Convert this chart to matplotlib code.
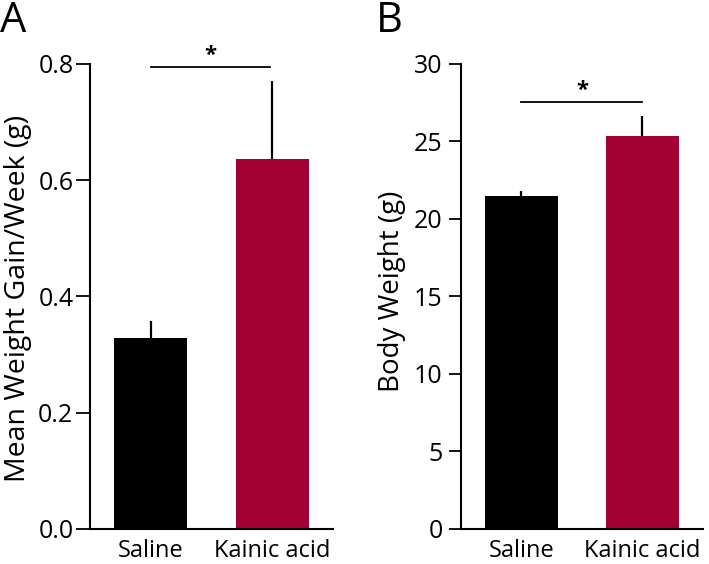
import numpy as np
import matplotlib
matplotlib.use('Agg')
import matplotlib.pyplot as plt

plt.rcParams['font.family'] = ['Open Sans', 'DejaVu Sans']

# Data
groups = ['Saline', 'Kainic acid']
gain_mean = [0.328, 0.637]
gain_err = [0.030, 0.133]
weight_mean = [21.45, 25.35]
weight_err = [0.38, 1.29]
bar_colors = ['#000000', '#A30034']

fig = plt.figure(figsize=(7.09, 5.64), dpi=100, facecolor='white')
axA = fig.add_axes([0.127, 0.0621, 0.3427, 0.8245])
axB = fig.add_axes([0.6498, 0.0621, 0.3418, 0.8245])


def draw_panel(ax, means, errs, ylim, yticks, ticklen, pad):
    x = np.arange(len(groups))
    ax.bar(x, means, width=0.6, color=bar_colors, edgecolor='none', zorder=2)
    # upper error bars only, no caps
    for xi, m, e in zip(x, means, errs):
        ax.plot([xi, xi], [m, m + e], color='black', lw=1.6, zorder=1,
                solid_capstyle='butt')
    ax.set_xlim(-0.5, 1.5)
    ax.set_ylim(*ylim)
    ax.set_yticks(yticks)
    ax.set_xticks(x)
    ax.set_xticklabels(groups, fontsize=17)
    ax.tick_params(axis='x', length=0, pad=7)
    ax.tick_params(axis='y', length=ticklen, width=1.3, labelsize=18, pad=pad)
    for s in ['top', 'right']:
        ax.spines[s].set_visible(False)
    for s in ['left', 'bottom']:
        ax.spines[s].set_linewidth(1.5)


draw_panel(axA, gain_mean, gain_err, (0, 0.8), [0.0, 0.2, 0.4, 0.6, 0.8], 10, 2)
axA.set_yticklabels(['0.0', '0.2', '0.4', '0.6', '0.8'])
axA.plot([0, 0.98], [0.795, 0.795], color='black', lw=1.3, clip_on=False)
axA.text(0.49, 0.815, '*', ha='center', va='center', fontsize=16, fontweight='bold')

draw_panel(axB, weight_mean, weight_err, (0, 30), [0, 5, 10, 15, 20, 25, 30], 9, 4)
axB.plot([0, 1], [27.52, 27.52], color='black', lw=1.3, clip_on=False)
axB.text(0.5, 28.3, '*', ha='center', va='center', fontsize=16, fontweight='bold')

# y labels placed in figure pixels
fig.text(18 / 709, 1 - 298 / 564, 'Mean Weight Gain/Week (g)', rotation=90,
         ha='center', va='center', fontsize=20.5)
fig.text(392 / 709, 1 - 291 / 564, 'Body Weight (g)', rotation=90,
         ha='center', va='center', fontsize=20)

fig.text(0.0, 1.0, 'A', fontsize=30, ha='left', va='top')
fig.text(0.530, 1.0, 'B', fontsize=30, ha='left', va='top')

plt.savefig('out.png', dpi=100, facecolor='white')
plt.close()
